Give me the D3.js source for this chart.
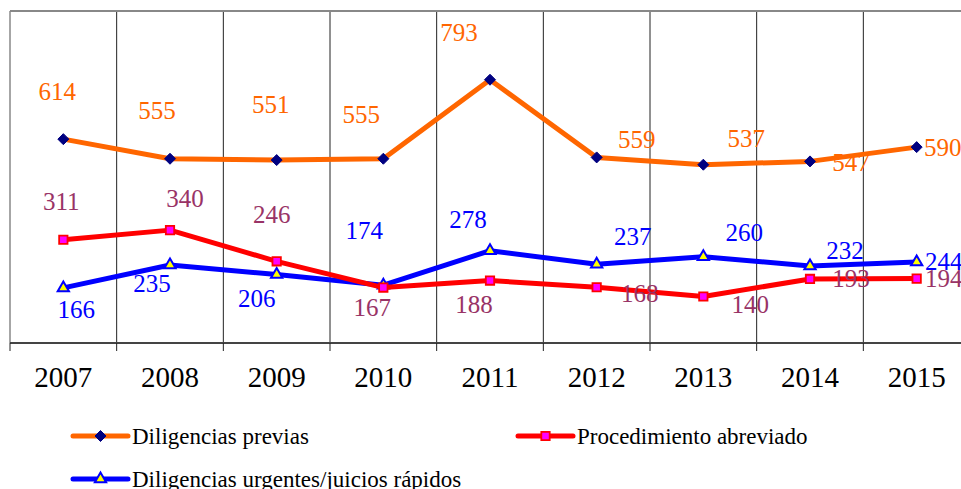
<!DOCTYPE html>
<html>
<head>
<meta charset="utf-8">
<script src="https://cdn.jsdelivr.net/npm/d3@7"></script>
<style>
  html, body { margin: 0; padding: 0; background: #fff; }
  svg { display: block; }
  text { font-family: "Liberation Serif", "Times New Roman", serif; }
</style>
</head>
<body>
<svg id="chart" width="961" height="489"></svg>
<script>
// Years on the category axis
const years = ["2007", "2008", "2009", "2010", "2011", "2012", "2013", "2014", "2015"];

// Series values
const diligenciasPrevias = [614, 555, 551, 555, 793, 559, 537, 547, 590];
const procedimientoAbreviado = [311, 340, 246, 167, 188, 168, 140, 193, 194];
const diligenciasUrgentes = [166, 235, 206, 174, 278, 237, 260, 232, 244];

// Series names for the legend
const seriesNames = ["Diligencias previas", "Procedimiento abreviado", "Diligencias urgentes/juicios rápidos"];

// Value-label placement relative to each point: [dx, dy]
const offsetsPrevias = [[-6,-39],[-13,-40],[-6,-47],[-22,-36],[-31,-39],[40,-9],[43,-18],[41,10],[26,9]];
const offsetsAbreviado = [[-2,-30],[15,-23],[-5,-38],[-11,28],[-16,32],[43,15],[47,16],[41,8],[27,8]];
const offsetsUrgentes = [[13,30],[-18,27],[-20,32],[-19,-46],[-22,-23],[36,-19],[41,-16],[35,-7],[27,8]];

const svg = d3.select("#chart");

const plot = { left: 10, top: 11, right: 970, bottom: 343 };

const x = d3.scaleBand().domain(years).range([plot.left, plot.right]).padding(0);
const y = d3.scaleLinear().domain([0, 1000]).range([plot.bottom, plot.top]);

const cx = d => x(d) + x.bandwidth() / 2;

// Vertical separators between categories
svg.append("g")
  .selectAll("line")
  .data(years.slice(1))
  .join("line")
  .attr("x1", d => x(d)).attr("x2", d => x(d))
  .attr("y1", plot.top).attr("y2", plot.bottom)
  .attr("stroke", "#222").attr("stroke-width", 1);

// Plot frame: top and left edges
svg.append("line")
  .attr("x1", plot.left).attr("x2", 961)
  .attr("y1", plot.top).attr("y2", plot.top)
  .attr("stroke", "#888").attr("stroke-width", 2);
svg.append("line")
  .attr("x1", plot.left).attr("x2", plot.left)
  .attr("y1", plot.top).attr("y2", plot.bottom)
  .attr("stroke", "#888").attr("stroke-width", 1.5);

// Category axis
const xAxis = d3.axisBottom(x).tickSize(0).tickPadding(0);
const axisG = svg.append("g")
  .attr("transform", `translate(0,${plot.bottom})`)
  .call(xAxis);
axisG.select(".domain").remove();
axisG.selectAll("text")
  .attr("y", 44)
  .attr("dy", 0)
  .attr("fill", "#000")
  .style("font-size", "29px")
  .style("font-family", "'Liberation Serif', serif");

svg.append("line")
  .attr("x1", plot.left).attr("x2", 961)
  .attr("y1", plot.bottom).attr("y2", plot.bottom)
  .attr("stroke", "#444").attr("stroke-width", 2);

// Tick marks at category boundaries
svg.append("g")
  .selectAll("line")
  .data(years)
  .join("line")
  .attr("x1", d => x(d)).attr("x2", d => x(d))
  .attr("y1", plot.bottom).attr("y2", plot.bottom + 8)
  .attr("stroke", "#222").attr("stroke-width", 1);

const line = d3.line().x((d, i) => cx(years[i])).y(d => y(d));

// Square rotated 45° for the diamond marker (equal width and height)
const diamondPath = "M0,-5.5L5.5,0L0,5.5L-5.5,0Z";
const square = d3.symbol().type(d3.symbolSquare).size(70);
const triangle = d3.symbol().type(d3.symbolTriangle).size(55);

const series = [
  { name: seriesNames[0], values: diligenciasPrevias, offsets: offsetsPrevias,
    line: "#FF6600", label: "#FF6600", sym: diamondPath, fill: "#000080", stroke: "#000080", sw: 1 },
  { name: seriesNames[1], values: procedimientoAbreviado, offsets: offsetsAbreviado,
    line: "#FF0000", label: "#993366", sym: square, fill: "#FF00FF", stroke: "#FF0000", sw: 1.8 },
  { name: seriesNames[2], values: diligenciasUrgentes, offsets: offsetsUrgentes,
    line: "#0000FF", label: "#0000FF", sym: triangle, fill: "#FFFF00", stroke: "#0000FF", sw: 2 }
];

// Draw order: blue, red, orange so red sits over blue near 2010
const drawOrder = [series[2], series[1], series[0]];

drawOrder.forEach(s => {
  const g = svg.append("g");
  g.append("path")
    .datum(s.values)
    .attr("d", line)
    .attr("fill", "none")
    .attr("stroke", s.line)
    .attr("stroke-width", 5)
    .attr("stroke-linejoin", "round");
  g.selectAll("path.mk")
    .data(s.values)
    .join("path")
    .attr("class", "mk")
    .attr("d", s.sym)
    .attr("transform", (d, i) => `translate(${cx(years[i])},${y(d)})`)
    .attr("fill", s.fill)
    .attr("stroke", s.stroke)
    .attr("stroke-width", s.sw);
});

// Value labels
series.forEach(s => {
  svg.append("g")
    .selectAll("text")
    .data(s.values)
    .join("text")
    .attr("x", (d, i) => cx(years[i]) + s.offsets[i][0])
    .attr("y", (d, i) => y(d) + s.offsets[i][1])
    .attr("text-anchor", "middle")
    .attr("fill", s.label)
    .style("font-size", "25px")
    .text(d => d);
});

// Legend
const legendItems = [
  { s: series[0], x: 73, y: 436 },
  { s: series[1], x: 518, y: 436 },
  { s: series[2], x: 73, y: 479 }
];
const lg = svg.append("g");
legendItems.forEach(it => {
  const g = lg.append("g").attr("transform", `translate(${it.x},${it.y})`);
  g.append("line")
    .attr("x1", 0).attr("x2", 55).attr("y1", 0).attr("y2", 0)
    .attr("stroke", it.s.line).attr("stroke-width", 5).attr("stroke-linecap", "round");
  g.append("path")
    .attr("d", it.s.sym)
    .attr("transform", "translate(27.5,0)")
    .attr("fill", it.s.fill)
    .attr("stroke", it.s.stroke)
    .attr("stroke-width", it.s.sw);
  g.append("text")
    .attr("x", 59).attr("y", 8)
    .attr("fill", "#000")
    .style("font-size", "23px")
    .text(it.s.name);
});
</script>
</body>
</html>
